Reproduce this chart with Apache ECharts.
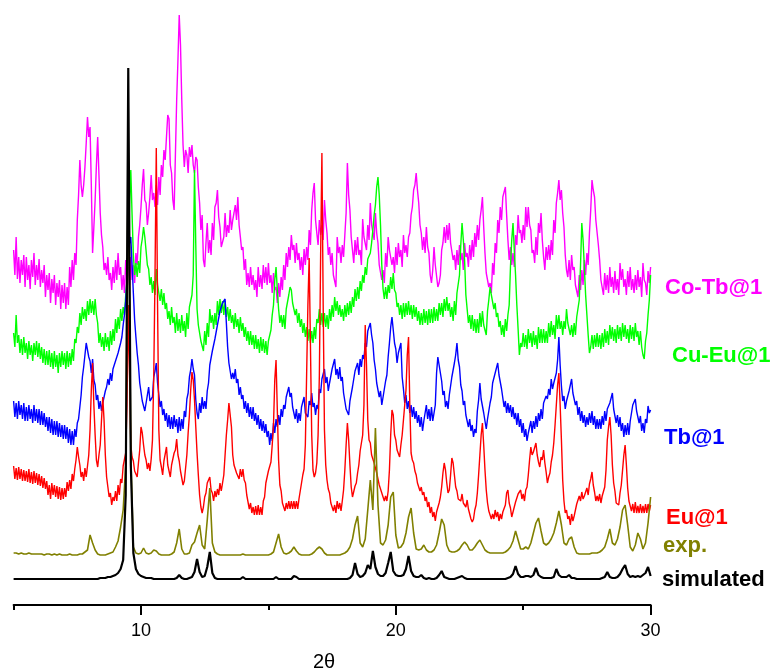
<!DOCTYPE html>
<html><head><meta charset="utf-8">
<script src="https://cdn.jsdelivr.net/npm/echarts/dist/echarts.min.js"></script>
<style>html,body{margin:0;padding:0;background:#fff}#c{width:773px;height:672px}</style>
</head><body><div id="c"></div>
<script>
// sampling grids (2-theta, degrees): noisy scans at 0.05 deg, smooth patterns at 0.1 deg
const thetaFine = Array.from({length: 501}, (_, i) => (500 + 5 * i) / 100);
const thetaCoarse = Array.from({length: 251}, (_, i) => (50 + i) / 10);

// Intensities (stacked, arbitrary units)
const coTb = [
 355,330,368,326,348,322,345,330,350,318,348,325,340,316,345,328,352,320,340,325,
 346,318,335,322,340,308,330,315,332,302,326,312,330,300,322,308,325,296,320,302,
 322,296,318,300,338,318,345,325,352,340,385,410,445,420,408,420,438,462,488,468,
 478,420,352,378,405,440,468,430,392,370,358,335,342,330,348,325,332,315,338,322,
 345,325,352,330,338,315,330,312,345,325,338,320,348,325,340,322,352,340,368,380,
 398,420,436,405,402,380,392,408,430,405,412,398,420,400,428,410,440,428,455,445,
 468,490,486,440,432,405,395,450,505,545,590,560,505,460,438,455,450,432,458,448,
 460,440,432,448,445,418,402,375,390,345,338,362,382,352,365,350,382,365,398,402,
 415,388,378,358,356,368,392,368,380,372,395,375,385,392,400,385,408,380,368,355,
 358,335,346,320,332,318,338,320,330,315,325,308,338,318,330,316,340,322,338,320,
 342,322,330,312,332,315,318,302,322,308,328,315,340,325,352,338,358,345,370,355,
 360,342,362,345,352,335,348,330,356,340,358,345,375,360,395,412,422,385,372,360,
 385,370,380,365,405,385,372,350,358,340,352,330,328,318,368,352,358,342,360,348,
 370,392,442,410,395,368,355,342,365,350,368,350,355,340,386,368,370,355,380,365,
 402,380,378,365,392,372,362,340,342,325,335,322,352,338,368,355,355,340,348,332,
 358,340,362,348,355,338,370,352,360,348,368,372,390,398,415,420,432,415,402,380,
 372,355,368,352,378,358,352,330,322,335,358,340,338,318,322,330,355,362,378,362,
 380,365,382,362,362,345,350,335,355,340,360,345,352,335,362,348,352,338,360,345,
 365,348,372,358,380,365,385,395,408,378,352,332,330,318,322,312,342,330,362,352,
 385,372,398,385,408,410,418,390,365,345,358,340,352,338,370,360,390,372,375,362,
 380,365,398,378,398,380,375,352,355,342,368,350,382,372,392,365,348,335,358,345,
 360,345,365,350,385,372,402,412,425,405,415,392,378,350,335,328,345,325,350,335,
 338,320,322,308,330,315,335,320,345,330,352,340,372,395,425,415,408,385,385,360,
 345,325,325,310,332,315,330,312,338,318,328,312,334,315,326,310,342,325,336,318,
 326,310,334,318,338,315,326,312,330,315,335,318,328,308,342,325,322,310,334,322,
 338];
const cuEu = [
 272,258,290,262,270,252,266,250,268,252,262,246,264,250,260,244,262,250,264,248,
 262,246,258,242,256,240,254,240,255,238,252,236,254,238,250,232,252,238,254,240,
 252,236,254,238,252,240,256,244,266,262,278,272,292,280,298,286,296,284,304,290,
 306,292,304,290,306,290,282,262,272,258,268,254,272,258,268,254,274,260,276,264,
 286,272,288,276,296,284,298,290,310,325,355,400,435,390,350,330,342,328,344,332,
 358,366,378,368,366,340,336,320,328,312,324,310,336,320,318,304,316,300,312,296,
 302,286,294,280,298,282,288,272,292,274,286,272,290,274,284,268,292,276,298,300,
 310,330,435,360,296,280,280,264,266,254,274,260,282,268,296,282,290,276,292,280,
 304,290,306,292,304,290,304,288,298,284,296,282,290,276,292,278,286,272,288,274,
 282,268,278,264,274,260,274,260,270,256,270,256,266,252,268,254,266,252,264,250,
 264,262,275,290,300,325,338,315,296,282,290,278,290,276,296,298,310,318,315,302,
 304,290,296,282,292,278,286,272,282,268,278,264,276,262,274,262,278,266,286,282,
 296,280,292,278,292,278,290,276,296,284,300,288,308,294,304,290,300,288,296,284,
 300,288,302,290,304,292,308,298,316,304,318,306,324,314,330,322,338,330,346,348,
 352,362,375,390,400,418,428,410,380,340,316,306,318,306,320,312,328,316,332,315,
 312,298,302,290,300,286,302,288,302,290,304,290,300,286,300,288,298,284,294,280,
 292,280,296,282,294,280,296,282,296,282,298,284,296,284,302,290,302,288,306,294,
 308,294,302,288,298,284,304,290,312,312,330,360,382,365,345,310,296,282,290,276,
 290,274,286,272,286,272,292,278,294,280,282,270,294,305,318,310,312,296,302,288,
 292,278,284,270,280,268,286,274,290,300,338,365,382,355,330,300,276,250,262,258,
 272,258,270,256,276,262,272,258,274,260,270,256,278,262,276,262,276,262,274,262,
 282,268,284,270,280,266,290,276,290,276,284,270,284,276,296,282,284,270,280,268,
 282,270,288,290,305,340,382,365,338,310,290,270,252,258,270,256,270,258,272,258,
 270,256,272,258,276,262,274,260,280,266,278,264,276,262,280,266,278,264,282,268,
 280,266,276,262,280,266,278,264,282,268,274,260,274,258,250,246,264,272,290,305,
 330];
const tb = [
 204,188,202,186,204,190,200,186,202,184,198,184,200,186,196,182,200,184,196,182,
 196,180,194,180,192,178,188,174,188,172,186,170,184,170,184,168,182,168,180,166,
 180,166,178,162,176,160,174,160,176,168,182,186,198,210,228,238,250,262,262,248,
 244,232,246,225,220,205,210,196,204,194,202,200,214,218,226,220,232,224,236,236,
 244,246,252,252,262,268,280,290,304,325,352,362,368,340,312,285,268,252,240,222,
 220,204,206,194,202,204,218,204,202,208,228,234,242,222,210,198,204,190,196,184,
 192,178,190,176,188,176,190,178,186,172,188,174,186,176,194,188,206,212,228,235,
 246,236,230,205,192,186,202,192,208,196,204,196,214,222,240,242,254,252,266,265,
 280,282,294,292,302,300,306,282,258,242,240,226,232,226,236,222,226,210,218,206,
 210,196,204,192,202,188,198,186,198,184,192,180,190,176,186,174,184,172,181,168,
 174,160,172,164,182,172,186,178,190,180,196,188,200,196,208,206,218,208,212,198,
 200,186,196,182,192,184,198,196,208,192,194,188,204,200,212,198,202,190,200,196,
 216,212,226,226,236,222,228,214,222,220,236,236,246,230,236,226,238,224,228,212,
 212,196,194,190,204,202,218,218,234,232,242,230,246,238,250,246,262,258,274,276,
 282,270,262,245,236,222,222,208,214,200,208,210,224,230,248,262,278,288,288,262,
 256,242,252,250,262,228,216,202,210,196,204,192,200,188,198,186,194,182,190,178,
 188,174,184,182,200,186,196,184,198,184,192,200,232,248,250,232,224,210,214,198,
 204,196,210,212,228,230,242,250,262,245,238,220,214,200,204,190,192,178,186,174,
 180,168,176,172,194,205,222,206,208,192,192,176,186,188,202,208,222,222,232,232,
 242,230,232,216,214,198,204,192,202,192,200,188,198,186,192,180,192,178,186,172,
 182,168,176,164,172,170,184,172,184,176,189,178,192,184,196,186,202,200,209,206,
 216,210,226,216,222,220,232,245,268,240,219,204,209,196,204,202,214,212,226,212,
 214,200,204,190,198,184,194,182,190,178,188,180,192,182,194,180,189,176,186,176,
 186,176,189,180,194,184,196,194,202,200,212,196,196,182,190,178,188,174,182,168,
 180,170,182,170,184,186,200,198,206,194,196,182,189,174,182,172,186,182,199,192,
 195];
const eu = [
 139,126,137,125,138,126,136,124,135,124,134,123,136,122,133,121,134,122,132,120,
 131,119,129,117,127,116,124,110,120,106,122,110,120,108,119,106,118,105,117,106,
 117,108,123,114,125,116,131,124,136,145,158,148,140,128,133,124,137,128,139,150,
 175,215,242,200,170,145,138,150,160,185,208,185,150,128,118,108,112,100,108,104,
 114,104,120,110,126,122,139,138,152,200,300,230,160,148,144,134,136,128,142,155,
 178,172,160,150,145,136,142,134,146,165,228,330,457,300,175,145,138,130,144,142,
 158,140,138,128,140,140,152,155,166,150,144,134,134,120,124,125,150,172,190,215,
 233,225,205,178,152,130,110,98,92,98,108,112,122,125,128,115,112,104,114,108,
 116,110,122,114,122,130,150,170,185,202,202,178,150,140,142,132,134,126,136,128,
 136,125,122,110,108,96,102,92,98,90,99,90,100,90,98,90,104,108,122,124,
 134,136,143,160,180,225,245,195,145,120,114,102,104,94,102,96,104,96,104,96,
 104,96,104,96,106,104,122,130,136,160,230,300,347,260,170,135,128,132,142,170,
 230,350,452,300,175,140,125,116,112,102,104,94,100,92,104,96,102,94,104,115,
 135,160,182,165,140,118,108,110,119,122,132,140,154,162,170,200,280,240,185,165,
 162,150,149,142,142,132,132,120,119,112,114,104,109,104,114,135,170,195,190,170,
 165,155,153,148,160,170,185,200,215,250,268,200,152,145,142,134,130,122,121,114,
 118,110,113,104,108,98,103,92,98,88,93,84,93,94,102,108,118,132,142,135,
 122,112,115,130,147,142,130,118,114,106,108,104,111,102,103,98,105,96,95,86,
 83,86,95,100,112,130,150,170,182,160,135,115,102,94,95,86,91,86,95,88,
 93,84,91,86,93,92,100,112,115,102,97,88,93,92,103,104,111,110,115,106,
 111,104,115,118,130,145,158,150,153,152,162,150,143,138,148,145,155,142,133,122,
 128,132,143,150,162,180,200,220,232,200,165,125,104,92,95,86,89,80,91,84,
 89,88,101,102,109,104,113,106,109,108,117,110,121,126,133,120,113,104,109,104,
 111,102,109,110,118,135,165,178,188,170,140,122,114,102,100,100,112,120,135,150,
 160,140,117,104,103,94,101,92,103,92,99,92,101,92,99,92,101,92,101,94,
 100];
const expt = [
 52,52,51,52,51,51,52,51,51,51,
 51,51,50,51,51,50,51,50,51,50,
 50,50,51,50,50,50,51,51,53,55,
 70,62,55,51,50,50,50,51,52,53,
 58,64,78,95,140,450,150,58,52,51,
 52,57,52,51,52,55,54,51,50,50,
 50,50,51,53,62,76,56,51,51,52,
 60,63,72,80,60,56,85,117,62,53,
 51,50,50,50,50,50,50,50,50,50,
 51,50,50,50,50,50,50,50,50,50,
 50,51,53,62,71,58,52,51,52,54,
 58,54,51,50,50,50,50,51,53,56,
 58,56,52,50,50,50,50,50,50,51,
 52,54,58,66,80,89,62,58,66,95,
 125,95,177,100,62,60,65,80,108,113,
 70,57,58,62,72,88,97,72,56,55,
 56,60,55,53,53,55,60,72,86,80,
 60,54,53,53,54,56,60,63,60,55,
 55,58,62,65,60,55,53,52,52,52,
 52,52,52,53,55,58,64,74,65,56,
 56,58,56,62,72,82,87,74,62,60,
 62,66,72,82,94,80,62,60,66,68,
 58,52,51,51,51,51,51,52,52,52,
 53,55,58,66,76,62,60,66,78,95,
 100,80,58,54,60,72,66,56,62,82,
 108];
const simulated = [
 26,26,26,26,26,26,26,26,26,26,
 26,26,26,26,26,26,26,26,26,26,
 26,26,26,26,26,26,26,26,26,26,
 26,26,26,26,27,27,27,28,28,29,
 30,32,36,45,110,537,140,52,36,31,
 29,28,27,27,27,26,26,26,26,26,
 26,26,26,26,27,30,27,26,26,27,
 28,33,46,33,28,29,38,53,32,27,
 26,26,26,26,26,26,26,26,26,26,
 28,26,26,26,26,26,26,26,26,26,
 26,26,26,28,26,26,26,26,26,26,
 29,28,26,26,26,26,26,26,26,26,
 26,26,26,26,26,26,26,26,26,26,
 26,26,27,30,42,31,28,29,32,40,
 36,54,38,31,29,29,32,42,53,34,
 30,29,29,30,36,49,34,29,28,28,
 30,27,26,27,26,26,27,30,34,28,
 27,26,26,26,27,28,29,27,26,26,
 26,26,26,26,26,26,26,26,26,26,
 26,26,26,26,27,28,31,39,31,28,
 28,29,29,28,30,37,30,28,27,27,
 27,27,28,36,30,28,28,28,30,27,
 27,26,26,26,26,26,26,26,26,26,
 26,27,28,33,28,27,27,28,31,36,
 40,31,28,29,28,29,28,30,32,38,
 29];

const seriesNames = ['Co-Tb@1', 'Cu-Eu@1', 'Tb@1', 'Eu@1', 'exp.', 'simulated'];
const seriesData = [coTb, cuEu, tb, eu, expt, simulated];
const seriesGrid = [thetaFine, thetaFine, thetaFine, thetaFine, thetaCoarse, thetaCoarse];
const seriesColors = ['#ff00ff', '#00ff00', '#0000ff', '#ff0000', '#808000', '#000000'];
const seriesWidths = [1.4, 1.4, 1.4, 1.4, 1.6, 2.2];
const majorTicks = [10, 20, 30];
const minorTicks = [5, 15, 25];
const labelPos = [[665, 288], [672, 356], [664, 438], [666, 518], [663, 546], [662, 580]];

const chart = echarts.init(document.getElementById('c'), null, {renderer: 'canvas'});
const font = '"Liberation Sans", Arial, sans-serif';
chart.setOption({
  animation: false,
  backgroundColor: '#fff',
  grid: {left: 13.6, right: 122.4, top: 0, bottom: 67, containLabel: false},
  xAxis: [{
    type: 'value', min: 5, max: 30, interval: 5, position: 'bottom',
    axisLine: {lineStyle: {color: '#000', width: 2}},
    axisTick: {customValues: majorTicks, length: 10, lineStyle: {color: '#000', width: 2}},
    axisLabel: {customValues: majorTicks, margin: 17, fontSize: 18, color: '#000', fontFamily: font},
    splitLine: {show: false}
  }, {
    type: 'value', min: 5, max: 30, interval: 5, position: 'bottom',
    axisLine: {show: false},
    axisTick: {customValues: minorTicks, length: 5, lineStyle: {color: '#000', width: 2}},
    axisLabel: {show: false},
    splitLine: {show: false}
  }],
  yAxis: {type: 'value', min: 0, max: 605, show: false},
  series: seriesData.map((arr, k) => ({
    name: seriesNames[k], type: 'line', xAxisIndex: 0, showSymbol: false, symbol: 'none',
    sampling: undefined,
    data: arr.map((v, i) => [seriesGrid[k][i], v]),
    lineStyle: {color: seriesColors[k], width: seriesWidths[k]},
    z: 2 + k
  })),
  graphic: seriesNames.map((n, k) => ({
    type: 'text', x: labelPos[k][0], y: labelPos[k][1],
    style: {text: n, fill: seriesColors[k], font: 'bold 22px ' + font, verticalAlign: 'middle', align: 'left'}
  })).concat([{
    type: 'text', x: 324, y: 662,
    style: {text: '2θ', fill: '#000', font: '20px ' + font, verticalAlign: 'middle', align: 'center'}
  }])
});
</script></body></html>
